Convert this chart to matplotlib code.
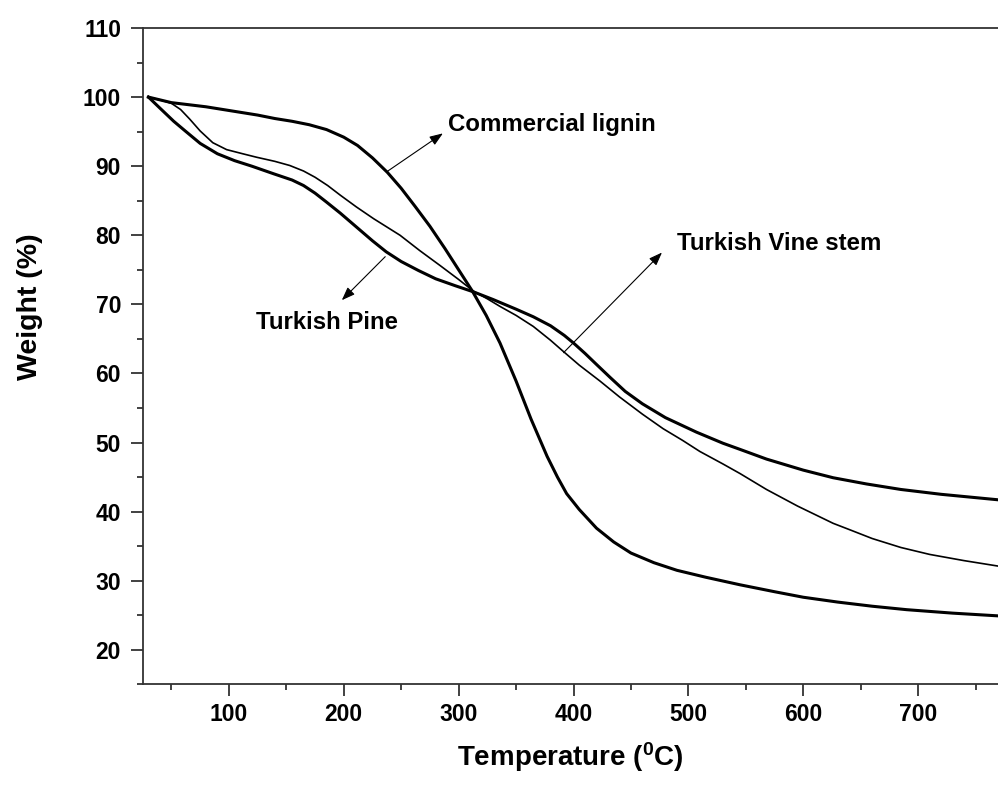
"""TGA curves: weight loss of lignin samples against temperature."""
import matplotlib
matplotlib.use("Agg")
import matplotlib.pyplot as plt
from matplotlib.ticker import MultipleLocator

plt.rcParams["font.family"] = ["Liberation Sans", "DejaVu Sans"]
plt.rcParams["font.weight"] = "bold"
plt.rcParams["mathtext.fontset"] = "custom"
plt.rcParams["mathtext.rm"] = "Liberation Sans:bold"
plt.rcParams["mathtext.bf"] = "Liberation Sans:bold"

# Weight (%) read at temperature (degC) for each sample
lignin_temp = [30, 40, 50, 65, 80, 95, 110, 125, 140, 155, 170, 185, 200, 212, 225,
               238, 250, 262, 275, 288, 300, 312, 324, 336, 350, 363, 377, 386, 394,
               405, 420, 435, 450, 470, 490, 515, 545, 575, 600, 630, 660, 690, 730, 770]
lignin_wt = [100, 99.6, 99.2, 98.9, 98.6, 98.2, 97.8, 97.4, 96.9, 96.5, 96.0, 95.3,
             94.2, 93.0, 91.2, 89.1, 86.8, 84.2, 81.3, 78.1, 75.0, 71.9, 68.4, 64.4,
             58.9, 53.4, 48.0, 45.0, 42.6, 40.3, 37.6, 35.6, 34.0, 32.6, 31.5, 30.5,
             29.4, 28.4, 27.6, 26.9, 26.3, 25.8, 25.3, 24.9]

pine_temp = [30, 40, 52, 62, 75, 90, 105, 120, 139, 155, 165, 175, 185, 197, 211,
             225, 237, 250, 265, 280, 297, 313, 330, 350, 365, 380, 392, 400, 410,
             420, 432, 445, 460, 480, 507, 530, 545, 568, 600, 626, 655, 685, 720, 770]
pine_wt = [100, 98.4, 96.5, 95.1, 93.3, 91.8, 90.8, 90.0, 88.9, 88.0, 87.2, 86.1,
           84.8, 83.2, 81.2, 79.2, 77.6, 76.2, 74.9, 73.7, 72.7, 71.8, 70.7, 69.3,
           68.2, 66.9, 65.5, 64.4, 62.9, 61.3, 59.4, 57.4, 55.6, 53.6, 51.5, 49.9,
           49.0, 47.6, 46.0, 44.9, 44.0, 43.2, 42.5, 41.7]

vine_temp = [30, 40, 50, 58, 66, 75, 86, 98, 112, 124, 140, 153, 165, 175, 186, 197,
             211, 226, 249, 266, 284, 300, 313, 325, 336, 350, 365, 380, 391, 405,
             423, 440, 460, 478, 495, 510, 530, 545, 568, 595, 626, 640, 660, 685,
             710, 740, 770]
vine_wt = [100, 99.6, 99.1, 98.2, 96.8, 95.1, 93.4, 92.4, 91.8, 91.3, 90.7, 90.1,
           89.3, 88.4, 87.2, 85.8, 84.1, 82.4, 80.0, 77.8, 75.6, 73.6, 71.9, 70.8,
           69.7, 68.4, 66.8, 64.8, 63.2, 61.2, 58.9, 56.6, 54.1, 52.0, 50.3, 48.7,
           46.9, 45.5, 43.2, 40.8, 38.3, 37.4, 36.1, 34.8, 33.8, 32.9, 32.1]

# (label, arrow tail on curve, arrow tip, text anchor)
callouts = [
    ("Commercial lignin", (237.5, 89.2), (286.3, 94.75), (290.9, 96.1)),
    ("Turkish Pine", (236.1, 76.9), (198.3, 70.6), (123.7, 67.3)),
    ("Turkish Vine stem", (391.3, 63.0), (477.0, 77.5), (490.0, 78.8)),
]


def main():
    fig = plt.figure(figsize=(9.98, 7.85), dpi=100)
    ax = fig.add_axes([0.143, 0.1283, 0.857, 0.836])

    ax.plot(lignin_temp, lignin_wt, color="black", lw=2.2)
    ax.plot(pine_temp, pine_wt, color="black", lw=2.2)
    ax.plot(vine_temp, vine_wt, color="black", lw=1.2)

    for label, tail, tip, pos in callouts:
        ax.annotate("", xy=tip, xytext=tail,
                    arrowprops=dict(arrowstyle="-|>,head_length=0.4,head_width=0.15",
                                    color="black", lw=0.8, mutation_scale=20,
                                    shrinkA=0, shrinkB=0))
        ax.text(pos[0], pos[1], label, fontsize=17.3, fontweight="bold",
                ha="left", va="center")

    ax.set_xlim(25, 769.5)
    ax.set_ylim(15, 110)
    ax.xaxis.set_major_locator(MultipleLocator(100))
    ax.xaxis.set_minor_locator(MultipleLocator(50))
    ax.yaxis.set_major_locator(MultipleLocator(10))
    ax.yaxis.set_minor_locator(MultipleLocator(5))

    spine_color = "#333333"
    for side in ("left", "bottom", "top"):
        ax.spines[side].set_color(spine_color)
        ax.spines[side].set_linewidth(1.3)
    ax.spines["right"].set_visible(False)

    ax.tick_params(which="both", direction="out", color=spine_color, width=1.3,
                   labelsize=16.5, top=False, right=False)
    ax.tick_params(which="major", length=8.6)
    ax.tick_params(which="minor", length=4.3)
    ax.tick_params(axis="x", pad=5)
    ax.tick_params(axis="y", pad=7)
    for lbl in ax.get_xticklabels() + ax.get_yticklabels():
        lbl.set_fontweight("bold")

    fig.text(30 / 998, 1 - 307 / 785, "Weight (%)", rotation=90, fontsize=20.5,
             fontweight="bold", ha="center", va="center")
    fig.text(570 / 998, 1 - 757 / 785, r"Temperature ($\mathregular{^0}$C)",
             fontsize=20, fontweight="bold", ha="center", va="center")

    fig.savefig("out.png", dpi=100)
    plt.close(fig)


if __name__ == "__main__":
    main()
